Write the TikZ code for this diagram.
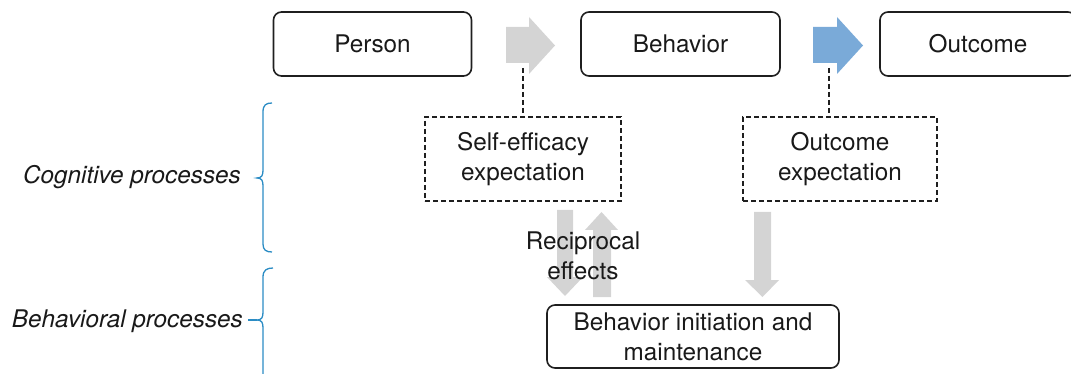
\documentclass[tikz,border=0pt]{standalone}
\usepackage{fontspec}
\setmainfont{TeX Gyre Heros}
\begin{document}
\begin{tikzpicture}[x=1pt,y=-1pt,
  every node/.style={font=\fontsize{24.3}{30}\selectfont, text=black!90, inner sep=0pt},
  box/.style={draw=black!88, line width=1.6pt, rounded corners=8pt, align=center},
  dbox/.style={draw=black!88, line width=1.5pt, dash pattern=on 5pt off 3pt, align=center},
  dline/.style={draw=black!88, line width=1.5pt, dash pattern=on 5pt off 3pt},
  itlabel/.style={anchor=east, font=\fontsize{24.3}{30}\selectfont\itshape},
  bracestyle/.style={draw=bracecol, line width=1.3pt}]
\definecolor{bluearrow}{HTML}{7AAAD8}
\definecolor{bracecol}{HTML}{2B8CC4}
\definecolor{grayarrow}{HTML}{D4D4D4}
\clip (0,0) rectangle (1071,374);
\useasboundingbox (0,0) rectangle (1071,374);
% top row
\node[box, minimum width=198, minimum height=64] (person) at (372.5,44) {Person};
\node[box, minimum width=199, minimum height=64] (behavior) at (680.5,44) {Behavior};
\node[box, minimum width=196, minimum height=64] (outcome) at (978,44) {Outcome};
% fat arrows top
\fill[grayarrow] (506,27) -- (529,27) -- (529,17) -- (555,45.5) -- (529,74) -- (529,63) -- (506,63) -- cycle;
\fill[bluearrow] (813,27) -- (837,27) -- (837,17) -- (863,45.5) -- (837,74) -- (837,63) -- (813,63) -- cycle;
\coordinate (g1) at (523,68);
\coordinate (b1) at (829,68);
% dashed boxes
\node[dbox, minimum width=196, minimum height=84] (selfeff) at (523,159) {Self-efficacy\\expectation};
\node[dbox, minimum width=194, minimum height=84] (outexp) at (840,159) {Outcome\\expectation};
\draw[dline] (g1) -- (g1 |- selfeff.north);
\draw[dline] (b1) -- (b1 |- outexp.north);
% bottom box
\node[box, minimum width=292, minimum height=63] (init) at (693,336.5) {Behavior initiation and\\maintenance};
% vertical fat arrows
\fill[grayarrow] (557,210) -- (573,210) -- (573,277) -- (583,277) -- (565,296) -- (547,277) -- (557,277) -- cycle;
\fill[grayarrow] (593,297) -- (611,297) -- (611,230) -- (618,230) -- (601.5,212) -- (585,230) -- (593,230) -- cycle;
\fill[grayarrow] (754,212) -- (771,212) -- (771,280) -- (779,280) -- (762.5,297) -- (745,280) -- (754,280) -- cycle;
\node[align=center] (recip) at (583,256) {Reciprocal\\effects};
% labels and braces
\node[itlabel] (cog) at (241,177) {Cognitive processes};
\node[itlabel] (beh) at (243,321) {Behavioral processes};
\draw[bracestyle] (272,103) .. controls (266,103) and (263,105) .. (263,112) -- (263,170) .. controls (263,175) and (262,178) .. (257,178) .. controls (262,178) and (263,181) .. (263,186) -- (263,244) .. controls (263,250) and (266,252) .. (272,252);
\draw[bracestyle] (273,268) .. controls (267,268) and (263,270) .. (263,277) -- (263,312) .. controls (263,317) and (262,320) .. (257,320) .. controls (262,320) and (263,323) .. (263,328) -- (263,380);
\draw[bracestyle] (248,320) -- (257,320);
\end{tikzpicture}
\end{document}
